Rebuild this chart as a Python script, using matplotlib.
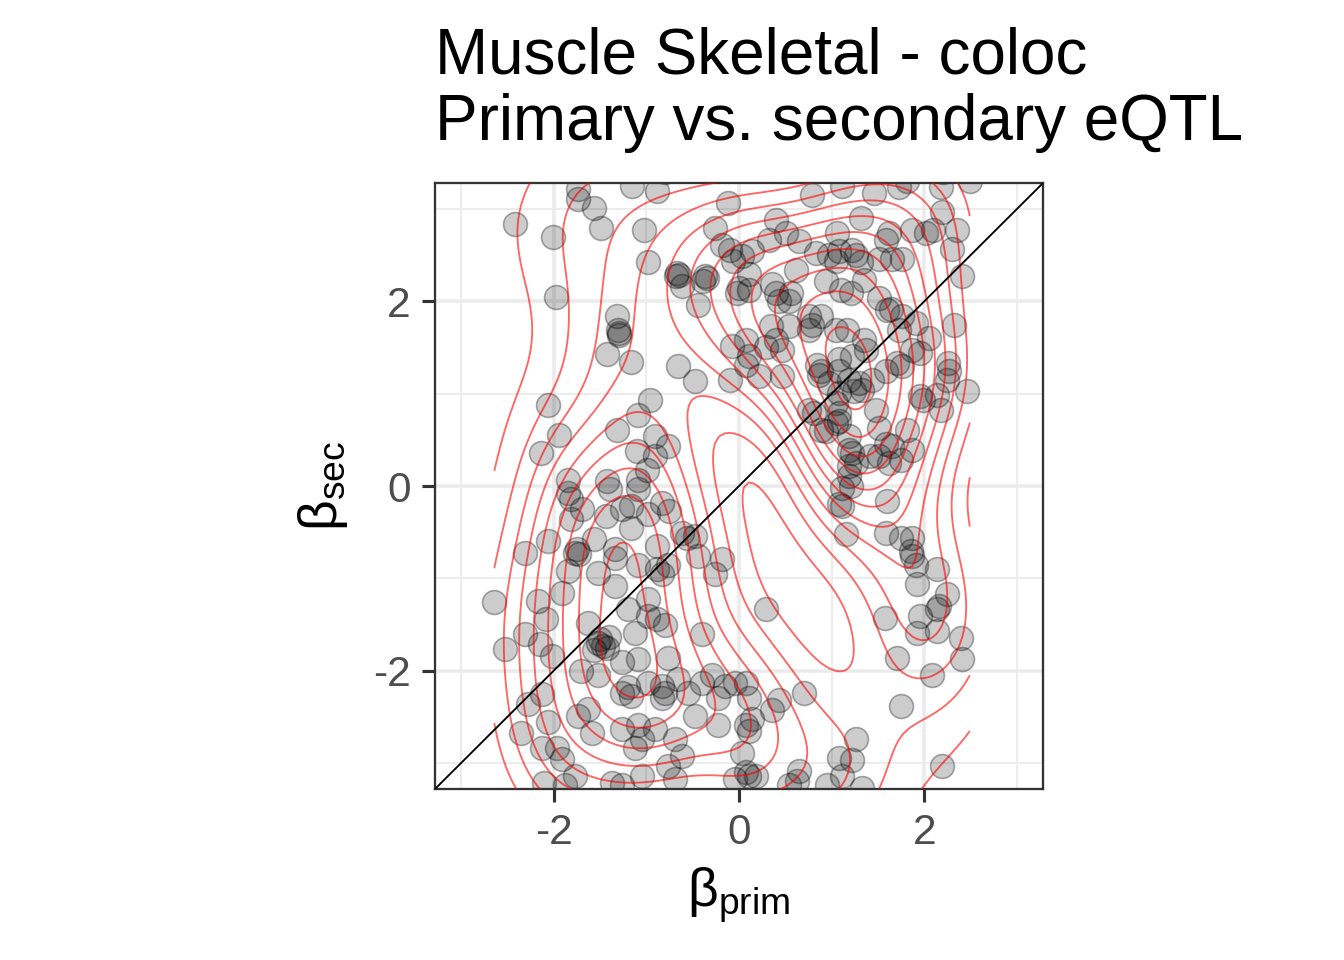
import numpy as np
import matplotlib
matplotlib.use("Agg")
import matplotlib.pyplot as plt
from matplotlib.ticker import FixedLocator

plt.rcParams['font.family'] = ['Liberation Sans', 'DejaVu Sans']
plt.rcParams['axes.unicode_minus'] = False
plt.rcParams['mathtext.fontset'] = 'custom'
plt.rcParams['mathtext.rm'] = 'Liberation Sans'
plt.rcParams['mathtext.it'] = 'Liberation Sans:italic'

title = "Muscle Skeletal - coloc\nPrimary vs. secondary eQTL"
major_ticks = [-2, 0, 2]
minor_ticks = [-3, -1, 1, 3]
lim = 3.28

beta_prim = [
    -1.74, -1.74, -1.56, -1.15, -0.89, -2.42, -2.01, -1.49, -1.03, -0.98,
    -0.67, -0.65, -0.68, -0.37, -0.35, -0.39, -0.62, -0.44, -1.97, -1.32,
    -1.31, -1.29, -1.29, -1.42, -1.16, -0.66, -0.48, -0.10, -0.08, -0.02,
    -0.12, -0.26, -0.18, -0.10, -0.06, -2.06, -0.96, -1.09, -1.32, -1.94,
    -2.14, -0.91, -0.77, -1.10, -0.91, -0.99, -1.85, -1.42, -1.09,
    0.79, 1.11, 1.46, 1.73, 1.81, 2.18, 2.49, 2.19, 2.35, 2.30,
    2.41, 2.02, 2.09, 1.87, 1.62, 1.59, 1.51, 1.65, 1.76, 1.32,
    1.06, 0.40, 0.51, 0.65, 0.32, 0.14, 0.03, 0.11, 0.00, 0.83,
    0.97, 1.08, 1.05, 1.22, 1.26, 1.32, 0.62, 0.94, 1.10, 1.21,
    1.35, 0.36, 0.40, 0.43, 0.56, 0.54, 0.11, 1.51, 1.64, 1.60,
    1.76, 1.73, 1.91, 2.05, 2.32, 0.76, 0.79, 0.76, 0.89, 0.35,
    0.54, 0.40, 0.29, 0.46, 0.08, 0.11, 0.08, 0.22, 0.46, 1.05,
    1.16, 1.35, 1.37, 1.08, 1.22, 0.84, 0.89, 0.86, 1.08, 0.97,
    1.19, 1.30, 1.33, 1.24, 1.08, 1.44, 1.59, 1.70, 1.76, 1.87,
    1.95, 2.25, 2.27, 2.24, 2.14, 1.95, 1.98, 2.18, 2.46, 0.76,
    0.81, 1.05, 1.08, 1.48, 1.51, 0.89, 0.94, 1.05, 1.08, 1.19,
    1.81, 1.87, 1.59, 1.65, 1.19, 1.22, 1.41, 1.19, 1.26, 1.51,
    1.62, 1.19, 1.75,
    -1.85, -1.81, -1.69, -1.39, -1.09, -1.16, -1.26, -1.43, -0.83, -0.75,
    -0.98, -1.81, -1.75, -1.77, -1.73, -2.06, -2.31, -1.56, -1.34, -1.34,
    -1.16, -1.09, -0.88, -0.88, -0.83, -0.77, -0.62, -0.56, -0.48, -0.44,
    -0.18, -0.26, -1.52, -1.34, -1.85, -1.91, -2.17, -2.64, -2.08, -2.31,
    -2.15, -2.53, -2.02, -1.63, -1.20, -0.98, -0.88, -0.80, -0.98, -1.50,
    -1.52, -1.47, -1.40, -1.42, -1.56, -1.12, -1.26, -1.09, -0.77, -0.40,
    -1.70, -1.52, -1.20, -1.16, -1.26, -0.98, -0.83, -0.80, -0.83, -0.66,
    -0.55, -0.40, -0.29, -0.15, -0.23, -0.04, -0.48, -0.23, -1.63, -1.74,
    -2.28, -2.13, -2.35, -2.06, -2.13, -1.96, -1.91, -1.59, -1.26, -1.09,
    -1.05, -1.12, -0.91, -0.69, -0.62, -0.77, -1.05, -1.37, -1.26, -1.77,
    -2.10, -1.88, -0.69,
    1.11, 1.21, 1.08, 1.11, 1.60, 1.15, 1.59, 1.75, 1.87, 1.86,
    1.87, 1.91, 2.14, 1.92, 2.24, 2.16, 2.14, 1.95, 1.92, 2.14,
    2.40, 2.41, 1.57, 1.71, 2.08, 1.75, 0.29, 0.70, 0.43, 0.36,
    0.08, 0.11, 0.14, 0.08, 0.11, 0.03, 0.08, 0.11, 0.18, -0.04,
    0.65, 0.63, 0.54, 1.26, 1.08, 1.22, 1.11, 0.95, 1.33, 2.19,
    -1.60, 0.10, 1.20, -0.80, 1.50, 2.20,
]

beta_sec = [
    3.22, 3.11, 3.01, 3.25, 3.19, 2.84, 2.70, 2.79, 2.77, 2.43,
    2.31, 2.28, 2.27, 2.27, 2.25, 2.22, 2.16, 1.96, 2.05, 1.84,
    1.69, 1.66, 1.63, 1.43, 1.34, 1.30, 1.14, 1.15, 1.52, 2.09,
    3.06, 2.79, 2.61, 2.55, 2.44, 0.88, 0.93, 0.77, 0.61, 0.55,
    0.36, 0.54, 0.43, 0.38, 0.32, 0.17, 0.06, 0.05, 0.06,
    3.15, 3.25, 3.17, 3.24, 3.30, 3.24, 3.30, 2.97, 2.77, 2.57,
    2.27, 2.74, 2.77, 2.77, 2.74, 2.66, 2.46, 2.46, 2.46, 2.90,
    2.74, 2.88, 2.74, 2.65, 2.66, 2.54, 2.49, 2.30, 2.14, 2.52,
    2.50, 2.54, 2.44, 2.55, 2.50, 2.43, 2.34, 2.22, 2.12, 2.09,
    2.23, 2.19, 2.09, 2.00, 2.09, 2.00, 2.12, 2.03, 1.92, 1.90,
    1.84, 1.69, 1.76, 1.60, 1.74, 1.84, 1.74, 1.69, 1.84, 1.73,
    1.73, 1.58, 1.51, 1.47, 1.58, 1.41, 1.31, 1.19, 1.19, 1.69,
    1.69, 1.58, 1.47, 1.38, 1.41, 1.31, 1.25, 1.20, 1.25, 1.11,
    1.15, 1.11, 1.04, 1.03, 1.01, 1.15, 1.25, 1.33, 1.30, 1.47,
    1.44, 1.33, 1.25, 1.15, 0.98, 0.97, 0.93, 0.82, 1.03, 0.82,
    0.79, 0.90, 0.79, 0.82, 0.63, 0.61, 0.59, 0.68, 0.70, 0.54,
    0.61, 0.39, 0.46, 0.43, 0.39, 0.36, 0.32, 0.22, 0.25, 0.32,
    0.25, 0.11, 0.28,
    -0.08, -0.14, -0.25, -0.03, -0.03, -0.22, -0.25, -0.32, -0.18, -0.27,
    -0.30, -0.36, -0.68, -0.72, -0.74, -0.59, -0.72, -0.57, -0.68, -0.78,
    -0.46, -0.86, -0.65, -0.90, -0.95, -0.86, -0.51, -0.56, -0.54, -0.76,
    -0.79, -0.95, -0.94, -1.08, -0.92, -1.16, -1.24, -1.26, -1.44, -1.60,
    -1.71, -1.76, -1.84, -1.48, -1.33, -1.22, -1.44, -1.51, -1.41, -1.66,
    -1.70, -1.73, -1.63, -1.75, -1.77, -1.59, -1.91, -1.87, -1.86, -1.60,
    -2.00, -2.05, -2.18, -2.27, -2.24, -2.13, -2.16, -2.24, -2.30, -2.09,
    -2.24, -2.13, -2.05, -2.16, -2.30, -2.13, -2.49, -2.59, -2.41, -2.49,
    -2.36, -2.25, -2.67, -2.56, -2.84, -2.84, -2.95, -2.67, -2.63, -2.59,
    -2.74, -2.84, -2.63, -2.74, -2.92, -3.03, -3.14, -3.21, -3.24, -3.14,
    -3.21, -3.24, -3.17,
    -0.02, 0.00, -0.19, -0.22, -0.16, -0.52, -0.51, -0.56, -0.56, -0.70,
    -0.76, -0.86, -0.90, -1.06, -1.17, -1.30, -1.33, -1.41, -1.59, -1.57,
    -1.64, -1.87, -1.43, -1.86, -2.05, -2.38, -1.33, -2.24, -2.32, -2.43,
    -2.13, -2.30, -2.52, -2.59, -2.65, -2.89, -3.10, -3.14, -3.14, -3.17,
    -3.08, -3.19, -3.24, -2.74, -2.94, -2.97, -3.14, -3.24, -3.27, -3.03,
    -3.40, -3.40, -3.45, 3.40, 3.45, 3.40,
]

x = np.asarray(beta_prim, float)
y = np.asarray(beta_sec, float)


def bw_nrd(v):
    q75, q25 = np.percentile(v, [75, 25])
    return 4 * 1.06 * min(np.std(v, ddof=1), (q75 - q25) / 1.34) * len(v) ** (-0.2)


def r_pretty(lo, hi, n=10, h=1.5):
    h5 = 0.5 + 1.5 * h
    cell = (hi - lo) / n
    U = 10 ** np.floor(np.log10(cell))
    unit = U
    if 2 * U - cell < h * (cell - unit):
        unit = 2 * U
        if 5 * U - cell < h5 * (cell - unit):
            unit = 5 * U
            if 10 * U - cell < h * (cell - unit):
                unit = 10 * U
    ns = np.floor(lo / unit + 1e-7)
    nu = np.ceil(hi / unit - 1e-7)
    return np.arange(ns, nu + 1) * unit


# MASS::kde2d as used by ggplot2 stat_density_2d
ngrid = 100
gx = np.linspace(x.min(), x.max(), ngrid)
gy = np.linspace(y.min(), y.max(), ngrid)
hx, hy = bw_nrd(x) / 4, bw_nrd(y) / 4
phi = lambda u: np.exp(-0.5 * u ** 2) / np.sqrt(2 * np.pi)
z = phi((gx[:, None] - x[None, :]) / hx) @ phi((gy[:, None] - y[None, :]) / hy).T
z = z / (len(x) * hx * hy)
levels = [lv for lv in r_pretty(z.min(), z.max()) if z.min() < lv < z.max()]

fig = plt.figure(figsize=(4.48, 3.2), dpi=300)
ax = fig.add_axes([435 / 1344, 1 - 789 / 960, 608 / 1344, 606 / 960])

ax.set_xlim(-lim, lim)
ax.set_ylim(-lim, lim)
ax.xaxis.set_major_locator(FixedLocator(major_ticks))
ax.yaxis.set_major_locator(FixedLocator(major_ticks))
ax.xaxis.set_minor_locator(FixedLocator(minor_ticks))
ax.yaxis.set_minor_locator(FixedLocator(minor_ticks))
ax.grid(True, which='major', color='#EBEBEB', lw=0.85, zorder=0)
ax.grid(True, which='minor', color='#EBEBEB', lw=0.45, zorder=0)
ax.set_axisbelow(True)
ax.tick_params(which='minor', length=0)
ax.tick_params(which='major', length=3.2, width=0.75, color='#333333',
               labelsize=10.2, labelcolor='#4D4D4D', pad=2.6)
for s in ax.spines.values():
    s.set_color('#333333')
    s.set_linewidth(0.55)

ax.scatter(x, y, s=33, facecolor=(0, 0, 0, 0.2), edgecolor=(0, 0, 0, 0.32),
           linewidths=0.4, zorder=2, clip_on=True)
ax.contour(gx, gy, z.T, levels=levels, colors='#FF0000', alpha=0.6,
           linewidths=0.45, zorder=3)
ax.plot([-lim, lim], [-lim, lim], color='black', lw=0.45, zorder=4)

ax.set_xlabel(r'$\mathregular{\beta_{prim}}$', fontsize=12.8, labelpad=3)
ax.set_ylabel(r'$\mathregular{\beta_{sec}}$', fontsize=12.8, labelpad=5.5)

fig.text(435 / 1344, 1 - 140 / 960, title, fontsize=15.3, ha='left',
         va='baseline', linespacing=1.13)

fig.savefig('out.png', dpi=300)
